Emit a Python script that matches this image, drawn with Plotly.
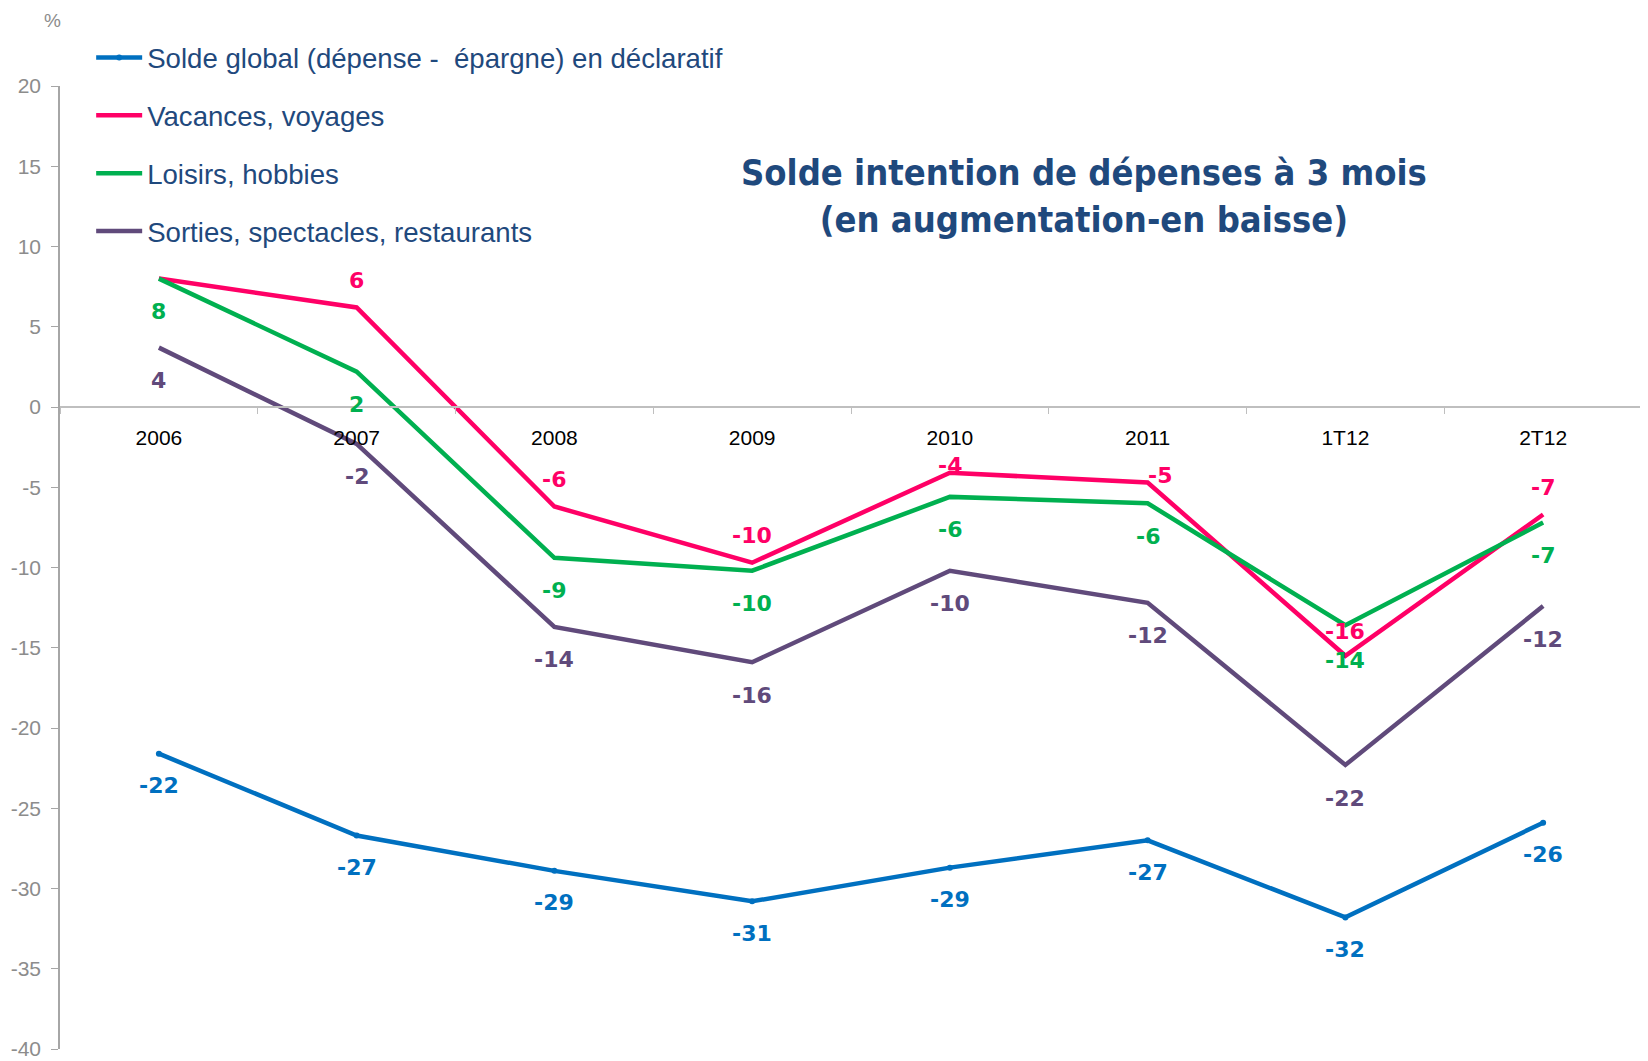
import plotly.graph_objects as go

# ---- data ----
categories = ["2006", "2007", "2008", "2009", "2010", "2011", "1T12", "2T12"]
solde_global = [-21.6, -26.7, -28.9, -30.8, -28.7, -27.0, -31.8, -25.9]
vacances = [8.0, 6.2, -6.2, -9.7, -4.1, -4.7, -15.5, -6.7]
loisirs = [8.0, 2.2, -9.4, -10.2, -5.6, -6.0, -13.6, -7.2]
sorties = [3.7, -2.3, -13.7, -15.9, -10.2, -12.2, -22.3, -12.4]
y_tickvals = [20, 15, 10, 5, 0, -5, -10, -15, -20, -25, -30, -35, -40]
y_ticktext = [str(v) for v in y_tickvals]

names = [
    "Solde global (dépense -  épargne) en déclaratif",
    "Vacances, voyages",
    "Loisirs, hobbies",
    "Sorties, spectacles, restaurants",
]

# ---- style ----
colors = ["#0070C0", "#FF0066", "#00B050", "#604A7B"]
label_shift = [-32, 27, -33, -33]          # default vertical label offset per series (px)
label_nudge = {(1, 4): (0, 7), (1, 5): (12, 7), (1, 6): (0, 24), (2, 6): (0, -35), (3, 6): (0, -34)}
hidden_labels = {(1, 0)}

series = [solde_global, vacances, loisirs, sorties]

fig = go.Figure()
for k, (name, vals, col) in enumerate(zip(names, series, colors)):
    fig.add_trace(go.Scatter(
        x=categories, y=vals, name=name, legendgroup=f"g{k}",
        mode="lines+markers" if k == 0 else "lines",
        line=dict(color=col, width=4.5),
        marker=dict(size=6, color=col),
    ))

annotations = []
label_font = "DejaVu Sans, Verdana, sans-serif"
for k, (vals, col) in enumerate(zip(series, colors)):
    for i, v in enumerate(vals):
        if (k, i) in hidden_labels:
            continue
        dx, dy = label_nudge.get((k, i), (0, label_shift[k]))
        annotations.append(dict(
            x=i, y=v, xref="x", yref="y",
            text=f"<b>{v:.0f}</b>", showarrow=False,
            xanchor="center", yanchor="middle",
            xshift=dx, yshift=dy,
            font=dict(family=label_font, size=22, color=col),
        ))

annotations.append(dict(
    x=-0.0045, y=1.068, xref="paper", yref="paper", text="%", showarrow=False,
    xanchor="center", yanchor="middle",
    font=dict(family="Liberation Sans, Arial", size=19, color="#8C8C8C"),
))
annotations.append(dict(
    x=0.647, y=0.886, xref="paper", yref="paper", xanchor="center", yanchor="middle",
    text="<b>Solde intention de dépenses à 3 mois<br>(en augmentation-en baisse)</b>",
    showarrow=False, align="center",
    font=dict(family="DejaVu Sans Condensed, DejaVu Sans, Verdana, sans-serif", size=36, color="#1F497D"),
))

# page body has an 8px margin: figure is sized so that it fits in the 1648x1061 window
fig.update_layout(
    width=1640, height=1053,
    margin=dict(l=52, r=6, t=78, b=12, autoexpand=False),
    paper_bgcolor="white", plot_bgcolor="white",
    showlegend=True,
    legend=dict(
        x=0.0197, y=1.055, xanchor="left", yanchor="top",
        font=dict(family="Liberation Sans, Arial", size=27.6, color="#1F497D"),
        tracegroupgap=19, bgcolor="rgba(0,0,0,0)", traceorder="grouped",
        itemwidth=46,
    ),
    annotations=annotations,
    xaxis=dict(
        type="category", range=[-0.5, 7.5], anchor="free", position=40 / 60,
        showline=True, linecolor="#BFBFBF", linewidth=1.5,
        ticks="outside", tickson="boundaries", ticklen=6, tickcolor="#BFBFBF",
        tickfont=dict(family="Liberation Sans, Arial", size=21, color="black"),
        ticklabelstandoff=12, showgrid=False, zeroline=False,
    ),
    yaxis=dict(
        range=[-40, 20], tickvals=y_tickvals, ticktext=y_ticktext,
        showline=True, linecolor="#A6A6A6", linewidth=1.5,
        ticks="outside", ticklen=7, tickcolor="#A6A6A6",
        tickfont=dict(family="Liberation Sans, Arial", size=21, color="#8C8C8C"),
        ticklabelstandoff=6,
        showgrid=False, zeroline=False,
    ),
)

fig.write_html("out.html")
